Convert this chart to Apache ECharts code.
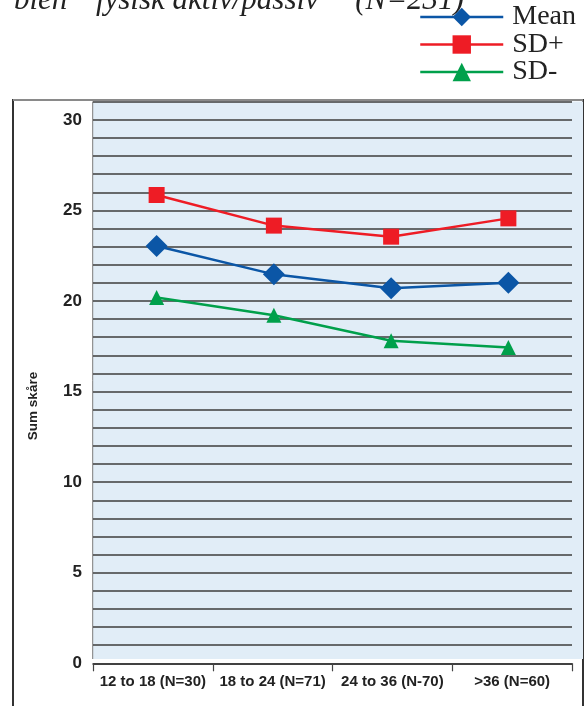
<!DOCTYPE html>
<html>
<head>
<meta charset="utf-8">
<script src="https://cdn.jsdelivr.net/npm/echarts@6/dist/echarts.min.js"></script>
<style>
html,body{margin:0;padding:0;background:#fff;}
#chart{width:588px;height:706px;}
</style>
</head>
<body>
<div id="chart"></div>
<script>
const categories = ['12 to 18 (N=30)', '18 to 24 (N=71)', '24 to 36 (N-70)', '>36 (N=60)'];
const meanValues = [23.03, 21.47, 20.70, 21.01];
const sdPlusValues = [25.85, 24.16, 23.55, 24.56];
const sdMinusValues = [20.19, 19.21, 17.80, 17.43];
const yTickLabels = [0, 5, 10, 15, 20, 25, 30];
const titleText = 'blen  "fysisk aktiv/passiv"   (N=231)';
const yTitle = 'Sum skåre';

const sansB = '"Liberation Sans", Arial, sans-serif';
const serif = '"Liberation Serif", "Times New Roman", serif';

const chart = echarts.init(document.getElementById('chart'), null, {renderer: 'canvas'});
const option = {
  animation: false,
  backgroundColor: '#ffffff',
  graphic: [
    {type: 'rect', z: -10, shape: {x: 13, y: 100, width: 570, height: 640},
     style: {fill: '#ffffff', stroke: '#333333', lineWidth: 2}},
    {type: 'line', z: -9, shape: {x1: 13, y1: 100, x2: 583, y2: 100},
     style: {stroke: '#8a8a8a', lineWidth: 2}},
    {type: 'rect', z: -8, shape: {x: 93, y: 101.5, width: 490, height: 557.5},
     style: {fill: '#e1edf7', stroke: null}},
    {type: 'line', z: -7, shape: {x1: 92.7, y1: 101.5, x2: 92.7, y2: 659},
     style: {stroke: '#7a7a7a', lineWidth: 1}},
    {type: 'text', z: -5, x: 14, y: 16,
     style: {text: titleText, font: 'italic 31px ' + serif, fill: '#222222',
             textAlign: 'left', textVerticalAlign: 'bottom', verticalAlign: 'bottom'}},
    {type: 'text', x: 33, y: 406, rotation: Math.PI / 2,
     style: {text: yTitle, font: 'bold 13.5px ' + sansB, fill: '#222222',
             textAlign: 'center', textVerticalAlign: 'middle', align: 'center', verticalAlign: 'middle'}}
  ],
  legend: {
    orient: 'vertical',
    left: 414,
    top: -2,
    itemWidth: 83,
    itemHeight: 23,
    itemGap: -0.5,
    lineStyle: {width: 2.5},
    textStyle: {fontFamily: serif, fontSize: 28, color: '#222222', padding: [0, 0, 0, 4]},
    data: ['Mean', 'SD+', 'SD-']
  },
  grid: [
    {left: 93, right: 16, top: 101.7, bottom: 42.7, containLabel: false},
    {left: 98, right: 21, top: 101.7, bottom: 42.7, containLabel: false}
  ],
  xAxis: [
    {type: 'category', gridIndex: 0, data: categories, boundaryGap: true,
     axisLine: {show: true, lineStyle: {color: '#333333', width: 1.5}},
     axisTick: {show: true, length: 8, interval: 0, lineStyle: {color: '#444444', width: 1.2}},
     axisLabel: {interval: 0, margin: 11, fontFamily: sansB, fontWeight: 'bold', fontSize: 15, color: '#222222'},
     splitLine: {show: false}},
    {type: 'category', gridIndex: 1, data: categories, boundaryGap: true, show: false}
  ],
  yAxis: [
    {type: 'value', gridIndex: 0, min: 0, max: 31, interval: 1,
     axisLine: {show: false}, axisTick: {show: false},
     axisLabel: {margin: 11, fontFamily: sansB, fontWeight: 'bold', fontSize: 17, color: '#222222',
                 formatter: function (v) { return yTickLabels.indexOf(v) >= 0 ? String(v) : ''; }},
     splitLine: {show: true, interval: function (idx) { return idx > 0 && idx < 31; },
                 lineStyle: {color: '#3c3c3c', width: 1.6}}},
    {type: 'value', gridIndex: 1, min: 0, max: 31, interval: 1, show: false, splitLine: {show: false}}
  ],
  series: [
    {name: 'Mean', type: 'line', xAxisIndex: 1, yAxisIndex: 1, data: meanValues,
     symbol: 'diamond', symbolSize: 22, color: '#0b56a6',
     lineStyle: {color: '#0b56a6', width: 2.5}, itemStyle: {color: '#0b56a6'}, z: 4},
    {name: 'SD+', type: 'line', xAxisIndex: 1, yAxisIndex: 1, data: sdPlusValues,
     symbol: 'rect', symbolSize: 16, color: '#ee1c25',
     lineStyle: {color: '#ee1c25', width: 2.5}, itemStyle: {color: '#ee1c25'}, z: 3},
    {name: 'SD-', type: 'line', xAxisIndex: 1, yAxisIndex: 1, data: sdMinusValues,
     symbol: 'triangle', symbolSize: 15, color: '#00a04b',
     lineStyle: {color: '#00a04b', width: 2.5}, itemStyle: {color: '#00a04b'}, z: 2}
  ]
};
chart.setOption(option);
</script>
</body>
</html>
